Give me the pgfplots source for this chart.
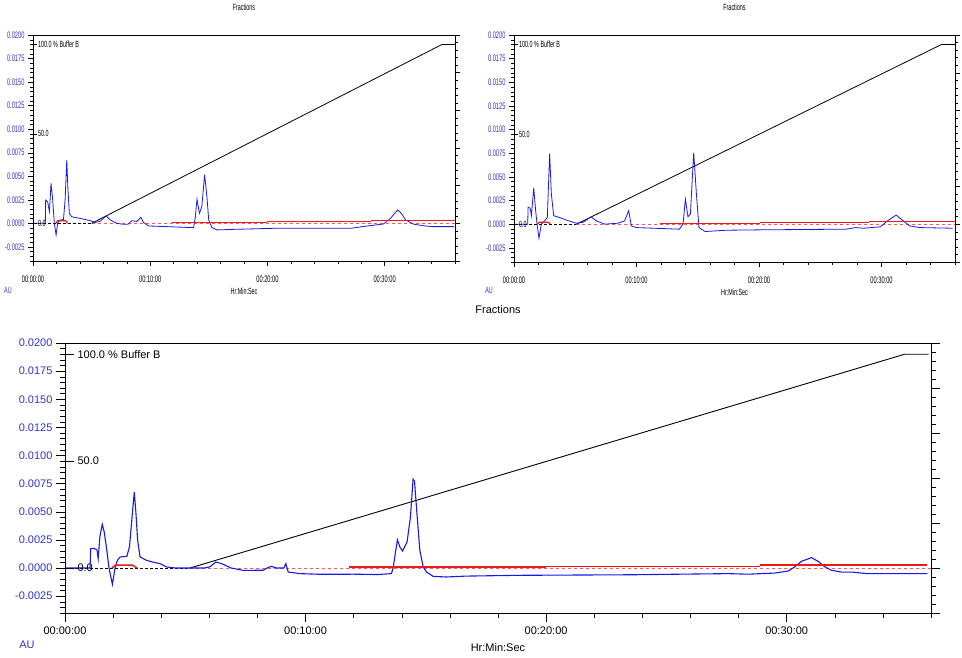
\documentclass[border=0pt]{standalone}
\usepackage{fontspec}
\setmainfont{Liberation Sans}
\newfontfamily\narrow[FakeStretch=0.6]{Liberation Sans}
\usepackage{pgfplots}
\usepackage{pgfplotstable}
\pgfplotsset{compat=1.18}

\definecolor{tlblue}{RGB}{50,50,205}
\definecolor{trace}{RGB}{25,25,225}
\definecolor{cond}{RGB}{235,25,25}

% chromatogram traces, time in min, absorbance in AU
\pgfplotstableread{
t y
0 0
1.04 0
1.07 0.00172
1.20 0.00175
1.33 0.00160
1.38 0.00083
1.45 0.0028
1.55 0.00389
1.63 0.0032
1.72 0.00187
1.83 0
1.97 -0.00145
2.08 0
2.18 0.0007
2.29 0.00098
2.57 0.00104
2.68 0.00187
2.80 0.00484
2.88 0.00676
2.95 0.00484
3.02 0.00246
3.12 0.00098
3.39 0.00068
3.70 0.00050
3.95 0.00039
4.22 0.00009
4.6 0
5.19 0
5.8 0
6.02 0.0001
6.27 0.00053
6.51 0.00039
6.9 0
7.41 -0.00021
8.24 -0.0002
8.40 0
8.58 0.00015
8.79 0
9.10 0
9.18 0.00039
9.28 -0.00036
9.77 -0.0005
10.6 -0.00056
12.0 -0.00055
13.0 -0.00058
13.57 -0.0005
13.64 0
13.73 0.00128
13.82 0.00252
13.92 0.00187
14.03 0.00151
14.22 0.00231
14.36 0.00454
14.47 0.00789
14.53 0.0077
14.61 0.00543
14.75 0.00157
14.89 0.00009
15.03 -0.00036
15.30 -0.00074
15.84 -0.0008
16.67 -0.00072
18.88 -0.00065
23.6 -0.0006
27.56 -0.0005
28.4 -0.00055
29.5 -0.00045
30.06 -0.00027
30.34 0.0001
30.61 0.00059
31.03 0.00092
31.31 0.00059
31.59 0.0001
31.86 -0.0002
32.28 -0.00036
32.7 -0.00036
33.1 -0.00045
33.4 -0.0005
35.85 -0.0005
}\bottomrun

\pgfplotstableread{
t y
0 0
1.05 0
1.08 0.00248
1.25 0.0023
1.40 0.00124
1.54 0.00425
1.68 0.0025
1.82 0
1.97 -0.00124
2.10 0
2.30 0.00035
2.60 0.0004
2.74 0.0025
2.88 0.0067
2.97 0.0039
3.10 0.00106
3.30 0.0007
4.0 0.00053
4.9 0.00028
5.3 0.0001
5.7 0.0002
6.24 0.00078
6.6 0.00035
7.15 0
7.7 -0.0001
8.1 -0.0001
8.43 0.00028
8.86 0.0002
9.2 0.00064
9.43 0.0001
9.86 -0.00028
11.4 -0.00035
13.7 -0.00046
13.85 0.0007
13.99 0.00255
14.2 0.00106
14.4 0.00177
14.64 0.00513
14.84 0.0028
14.99 0.00035
15.27 -0.00046
15.7 -0.0007
17.1 -0.00064
20.5 -0.00053
27.1 -0.00053
28.1 -0.00035
29.9 -0.00007
30.5 0.00053
31.1 0.00142
31.4 0.0011
31.8 0.00035
32.5 -0.0001
33.6 -0.0003
34.2 -0.00035
35.9 -0.00035
}\leftrun

\pgfplotstableread{
t y
0 0
1.12 0
1.15 0.00178
1.32 0.0017
1.42 0.00089
1.61 0.00383
1.77 0.0014
1.88 0
2.04 -0.00149
2.23 0
2.50 0.00036
2.72 0.00071
2.91 0.00746
3.05 0.0032
3.24 0.00089
3.73 0.0007
4.27 0.00043
5.1 0.0001
5.64 0.0002
6.3 0.00078
6.7 0.00036
7.4 0
8.49 0.0001
9.03 0.00036
9.36 0.00142
9.58 -0.00018
9.99 -0.00036
13.5 -0.00053
13.8 0
13.99 0.00266
14.2 0.00078
14.4 0.00107
14.67 0.00756
14.89 0.0032
15.1 -0.00036
15.6 -0.00078
17.3 -0.00064
20.1 -0.0006
27.1 -0.00053
27.9 -0.00036
28.5 -0.00043
29.9 -0.00028
30.5 0.00036
31.2 0.00096
31.6 0.00053
32.3 -0.00018
33.1 -0.00036
35.8 -0.00043
}\rightrun

\pgfplotsset{
  chrom/.style={
    scale only axis,
    xmin=0, xmax=36, ymin=-0.004, ymax=0.02,
    clip=false,
    axis line style={black},
    tick pos=left, tick align=outside,
    xtick={0,10,20,30},
    xticklabels={00:00:00,00:10:00,00:20:00,00:30:00},
    minor xtick={0,2,...,36},
    ytick={-0.0025,0,0.0025,0.005,0.0075,0.01,0.0125,0.015,0.0175,0.02},
    yticklabels={-0.0025,0.0000,0.0025,0.0050,0.0075,0.0100,0.0125,0.0150,0.0175,0.0200},
    minor ytick={-0.004,-0.0035,...,0.0201},
    scaled y ticks=false,
    yticklabel style={text=tlblue},
    every tick/.style={black},
  },
  rightside/.style={
    scale only axis,
    xmin=0, xmax=36, ymin=-0.004, ymax=0.02,
    axis x line=none, axis y line*=right,
    tick align=outside,
    scaled y ticks=false,
    ytick={-0.004,0,0.004,0.008,0.012,0.016,0.02},
    yticklabels={},
    minor ytick={-0.004,-0.0032,...,0.0201},
    every tick/.style={black},
  },
}

\begin{document}
\begin{tikzpicture}
\useasboundingbox (0,0) rectangle (962pt,657pt);

% ---------- bottom (large) panel ----------
\begin{axis}[rightside, at={(65pt,44pt)}, anchor=south west,
  width=866pt, height=270pt, axis line style={line width=0.9pt},
  major tick length=9pt, minor tick length=5pt]
\end{axis}
\begin{axis}[chrom, at={(65pt,44pt)}, anchor=south west,
  width=866pt, height=270pt, axis line style={line width=0.9pt},
  major tick length=9pt, minor tick length=5pt,
  tick label style={font=\fontsize{11}{13}\selectfont},
  xticklabel style={yshift=-1pt}]
\addplot[black, densely dashed, line width=0.9pt] coordinates {(0,0) (5.2,0)};
\addplot[cond!70, dashed, line width=0.5pt] coordinates {(5.2,0) (36,0)};
\addplot[black, line width=0.9pt] coordinates {(5.2,0) (34.9,0.019) (35.9,0.019)};
\addplot[trace, line width=1.1pt] table[x=t,y=y] {\bottomrun};
\addplot[cond, line width=1.5pt] coordinates {(1.95,0) (2.1,0.00025) (2.8,0.00025) (3.0,0)};
\addplot[cond, line width=1.5pt] coordinates {(11.8,0.0001) (20.0,0.0001)};
\addplot[cond, line width=1.5pt] coordinates {(20.0,0.00015) (28.9,0.00015)};
\addplot[cond, line width=1.5pt] coordinates {(28.9,0.00025) (35.85,0.00025)};
\draw[black] (axis cs:0,0.019) -- ++(9pt,0pt) node[right, font=\fontsize{11}{13}\selectfont] {100.0 \% Buffer B};
\draw[black] (axis cs:0,0.0095) -- ++(9pt,0pt) node[right, font=\fontsize{11}{13}\selectfont] {50.0};
\draw[black] (axis cs:0,0) -- ++(9pt,0pt) node[right, font=\fontsize{11}{13}\selectfont] {0.0};
\node[font=\fontsize{11}{13}\selectfont] at (rel axis cs:0.5,1) [yshift=33pt] {Fractions};
\node[font=\fontsize{11}{13}\selectfont] at (rel axis cs:0.5,0) [yshift=-35pt] {Hr:Min:Sec};
\node[font=\fontsize{11}{13}\selectfont, text=tlblue] at (rel axis cs:0,0) [xshift=-38pt, yshift=-32pt] {AU};
\end{axis}

% ---------- top left panel ----------
\begin{axis}[rightside, at={(33pt,396pt)}, anchor=south west,
  width=422pt, height=226pt, axis line style={line width=0.7pt},
  major tick length=5pt, minor tick length=3pt]
\end{axis}
\begin{axis}[chrom, at={(33pt,396pt)}, anchor=south west,
  width=422pt, height=226pt, axis line style={line width=0.7pt},
  major tick length=5pt, minor tick length=3pt,
  tick label style={font=\narrow\fontsize{9.5}{10}\selectfont},
  xticklabel style={yshift=-6pt}]
\addplot[black, densely dashed, line width=0.7pt] coordinates {(0,0) (5.0,0)};
\addplot[cond!70, dashed, line width=0.4pt] coordinates {(5.0,0) (36,0)};
\addplot[black, line width=0.8pt] coordinates {(5.0,0) (34.9,0.019) (36,0.019)};
\addplot[trace, line width=0.8pt] table[x=t,y=y] {\leftrun};
\addplot[cond, line width=1.2pt] coordinates {(1.95,0) (2.1,0.00028) (2.8,0.00028) (2.95,0)};
\addplot[cond, line width=1.3pt] coordinates {(11.85,0.0001) (20.0,0.0001)};
\addplot[cond, line width=1.3pt] coordinates {(20.0,0.0002) (28.8,0.0002)};
\addplot[cond, line width=1.3pt] coordinates {(28.8,0.0003) (36,0.0003)};
\draw[black] (axis cs:0,0.019) -- ++(4pt,0pt) node[right, inner sep=1pt, font=\narrow\fontsize{9}{10}\selectfont] {100.0 \% Buffer B};
\draw[black] (axis cs:0,0.0095) -- ++(4pt,0pt) node[right, inner sep=1pt, font=\narrow\fontsize{9}{10}\selectfont] {50.0};
\draw[black] (axis cs:0,0) -- ++(4pt,0pt) node[right, inner sep=1pt, font=\narrow\fontsize{9}{10}\selectfont] {0.0};
\node[font=\narrow\fontsize{9}{10}\selectfont] at (rel axis cs:0.5,1) [yshift=28pt] {Fractions};
\node[font=\narrow\fontsize{9}{10}\selectfont] at (rel axis cs:0.5,0) [yshift=-30pt] {Hr:Min:Sec};
\node[font=\narrow\fontsize{9}{10}\selectfont, text=tlblue] at (rel axis cs:0,0) [xshift=-25pt, yshift=-29pt] {AU};
\end{axis}

% ---------- top right panel ----------
\begin{axis}[rightside, at={(514pt,395pt)}, anchor=south west,
  width=441pt, height=227pt, axis line style={line width=0.7pt},
  major tick length=5pt, minor tick length=3pt]
\end{axis}
\begin{axis}[chrom, at={(514pt,395pt)}, anchor=south west,
  width=441pt, height=227pt, axis line style={line width=0.7pt},
  major tick length=5pt, minor tick length=3pt,
  tick label style={font=\narrow\fontsize{9.5}{10}\selectfont},
  xticklabel style={yshift=-6pt}]
\addplot[black, densely dashed, line width=0.7pt] coordinates {(0,0) (5.1,0)};
\addplot[cond!70, dashed, line width=0.4pt] coordinates {(5.1,0) (36,0)};
\addplot[black, line width=0.8pt] coordinates {(5.1,0) (34.9,0.019) (36,0.019)};
\addplot[trace, line width=0.8pt] table[x=t,y=y] {\rightrun};
\addplot[cond, line width=1.2pt] coordinates {(1.9,0) (2.05,0.0002) (2.8,0.0002) (2.95,0)};
\addplot[cond, line width=1.3pt] coordinates {(11.9,0.0001) (20.1,0.0001)};
\addplot[cond, line width=1.3pt] coordinates {(20.1,0.0002) (29.0,0.0002)};
\addplot[cond, line width=1.3pt] coordinates {(29.0,0.0003) (36,0.0003)};
\draw[black] (axis cs:0,0.019) -- ++(4pt,0pt) node[right, inner sep=1pt, font=\narrow\fontsize{9}{10}\selectfont] {100.0 \% Buffer B};
\draw[black] (axis cs:0,0.0095) -- ++(4pt,0pt) node[right, inner sep=1pt, font=\narrow\fontsize{9}{10}\selectfont] {50.0};
\draw[black] (axis cs:0,0) -- ++(4pt,0pt) node[right, inner sep=1pt, font=\narrow\fontsize{9}{10}\selectfont] {0.0};
\node[font=\narrow\fontsize{9}{10}\selectfont] at (rel axis cs:0.5,1) [yshift=28pt] {Fractions};
\node[font=\narrow\fontsize{9}{10}\selectfont] at (rel axis cs:0.5,0) [yshift=-30pt] {Hr:Min:Sec};
\node[font=\narrow\fontsize{9}{10}\selectfont, text=tlblue] at (rel axis cs:0,0) [xshift=-25pt, yshift=-28pt] {AU};
\end{axis}
\end{tikzpicture}
\end{document}
